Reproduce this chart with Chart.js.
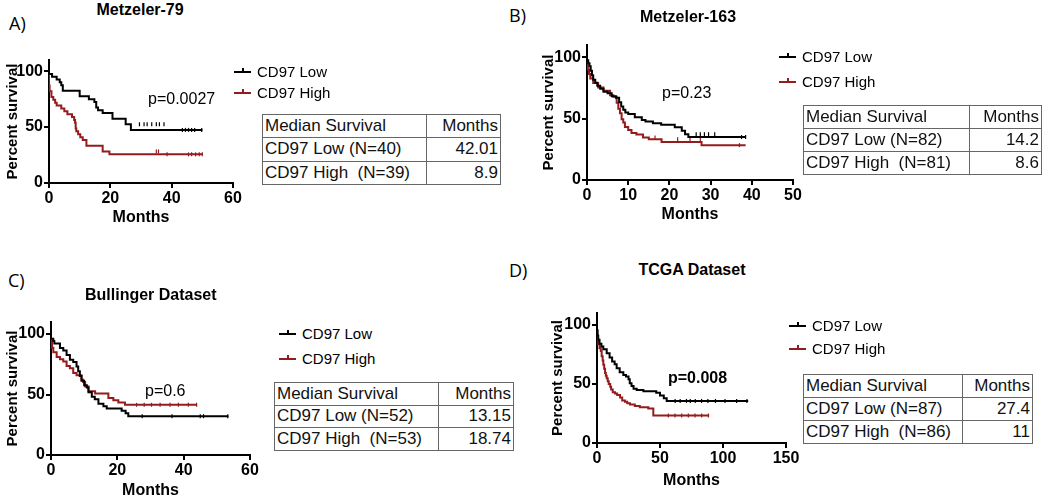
<!DOCTYPE html>
<html><head><meta charset="utf-8">
<script src="https://cdn.jsdelivr.net/npm/chart.js@4.4.0/dist/chart.umd.min.js"></script>
<style>
html,body{margin:0;padding:0;background:#fff;}
body{width:1050px;height:503px;position:relative;overflow:hidden;font-family:"Liberation Sans",Arial,sans-serif;color:#000;}
.abs{position:absolute;white-space:pre;}
.letter{font-family:"Open Sans",sans-serif;font-size:18px;line-height:20px;}
.title{font-weight:bold;font-size:16px;line-height:18px;}
.pval{font-size:16px;line-height:18px;}
.leg{font-size:15px;line-height:18px;}
table{position:absolute;border-collapse:collapse;font-size:17px;color:#111;}
td{border:1px solid #666;padding:0 2px;white-space:pre;line-height:20px;}
td.r{text-align:right;}
canvas{position:absolute;}
</style></head><body>
<script>
// ---------------- DATA ----------------
const yTicks = [0, 50, 100];
const groupNames = ['CD97 Low', 'CD97 High'];

// Panel A: Metzeler-79
const aXTicks = [0, 20, 40, 60];
const aLowT = [0,1,2.5,3.5,4,4.5,10,13,14.8,15.4,16,17.5,20.7,25,26.7,41.7,50];
const aLowS = [100,97.5,95,92.5,90,87.5,82.5,77.5,75,72.5,67.5,65,62.5,57.5,52.5,47.5,47.5];
const aLowCens = [29.5,31,32,33.5,35,36,37.5,43.5,44.5,45.5,46.5,47.5,49.8];
const aHighT = [0,0.2,0.8,1.4,2,2.5,4,5,6,7.5,8.2,8.5,8.7,8.9,9.5,10.2,11,12.2,17.5,19.7,36.5,50];
const aHighS = [100,87.2,82.1,76.9,74.4,71.8,69.2,66.7,64.1,61.5,59,56.4,53.8,48.7,46.2,43.6,41,38.5,33.3,28.2,25.6,25.6];
const aHighCens = [35,35.7,38.5,45.5,46.5,47.8,49,50];
const aTable = [['Median Survival','Months'],['CD97 Low (N=40)','42.01'],['CD97 High  (N=39)','8.9']];

// Panel B: Metzeler-163
const bXTicks = [0, 10, 20, 30, 40, 50];
const bLowT = [0,0.3,0.6,0.9,1.2,1.5,2,2.5,3.2,4,5,6,7,7.8,8.3,8.8,9.3,10,11.6,13.3,14.2,16,18,21.3,23,23.8,24.6,36.3,38.5];
const bLowS = [100,97.6,95.1,92.7,89,85.4,81.7,79.3,76.8,74.4,72,70.7,68.3,67.1,63.4,59.8,57.3,54.9,53.7,51.2,48.8,47.6,46.3,45.1,43,40.2,37.3,35,35];
const bLowCens = [26.5,27.5,28.5,29.5,31,37.5,38.5];
const bHighT = [0,0.2,0.5,0.8,1.5,2.7,4,5.6,6.4,7.2,7.6,8,8.4,8.8,9.2,10,10.8,12,13.6,15,18.1,27.8,31.8,38.5];
const bHighS = [100,95.1,90.1,86.4,82.7,79,75.3,72.8,69.1,67.9,63,58,54.3,49.4,46.9,43.2,40.7,38.3,37,34.6,33.3,30.9,28.4,28.4];
const bHighCens = [16.5,22,25,27.5,37];
const bTable = [['Median Survival','Months'],['CD97 Low (N=82)','14.2'],['CD97 High  (N=81)','8.6']];

// Panel C: Bullinger Dataset
const cXTicks = [0, 20, 40, 60];
const cLowT = [0,0.7,1,2.7,3.7,4.7,5.7,6.7,7.7,8.2,8.7,9.2,10,10.8,11.3,12.3,13.2,14.3,15.8,16.8,21.3,22.5,23.3,24.1,53.5];
const cLowS = [100,96.2,94.2,92.3,88.5,86.5,82.7,78.8,76.9,73.1,69.2,65.4,61.5,57.7,55.8,51.9,48.1,46.2,42.3,40.4,38.5,36.5,34.6,32.1,32.1];
const cLowCens = [27.5,36.5,45,46,53.3];
const cHighT = [0,0.3,0.7,1.7,2.7,3.7,4.7,5.7,6.7,7.7,9.2,9.7,10.3,11.3,13.3,17.3,18.8,20.3,22.3,23.8,44];
const cHighS = [100,94.3,88.7,84.9,81.1,79.2,77.4,73.6,71.7,67.9,66,62.3,60.4,56.6,52.8,50.9,47.2,45.3,43.4,41.5,41.5];
const cHighCens = [25.8,28.1,30.3,32.9,35.9,38.4,41.4,43.9];
const cTable = [['Median Survival','Months'],['CD97 Low (N=52)','13.15'],['CD97 High  (N=53)','18.74']];

// Panel D: TCGA Dataset
const dXTicks = [0, 50, 100, 150];
const dLowT = [0,0.5,1,2,3.5,5,7.7,10,12,14,15.6,18,20.9,23,25,26,27.4,29,31.5,36.8,47,50,53,55.3,58,120];
const dLowS = [100,95.4,90.8,87.4,83.9,81.6,79.3,75.9,72.4,69,66.7,63.2,59.8,57.5,56.3,54,50.6,48.3,46,44.8,43.7,42.5,40.2,37.9,35.6,35.6];
const dLowCens = [62,66,71,74,78,83,88,94,101.6,110.8,119];
const dHighT = [0,0.3,1,2,3,3.7,4.5,5,5.7,6.4,7,7.7,8.5,9.3,10.5,11.2,12.5,14.3,16,18.3,20,22.2,24,26.2,30,34,40.7,44.7,47.4,89];
const dHighS = [100,91.9,87.2,83.7,80.2,77.9,73.3,69.8,66.3,62.8,59.3,57,54.7,52.3,50,47.7,45.3,43,41.9,40.7,38.4,36,34.9,33.7,32.6,31.4,30.2,29.1,23.3,23.3];
const dHighCens = [56.6,61.9,67.2,72.5,77.8,83.1,88.4];
const dTable = [['Median Survival','Months'],['CD97 Low (N=87)','27.4'],['CD97 High  (N=86)','11']];

// ---------------- STYLE / LAYOUT ----------------
const COL_LOW = '#000000', COL_HIGH = '#941c1c';
const FONT = 'Liberation Sans';

function addDiv(cls, text, left, top, extra) {
  const d = document.createElement('div');
  d.className = 'abs ' + cls; d.textContent = text;
  d.style.left = left + 'px'; d.style.top = top + 'px';
  if (extra) Object.assign(d.style, extra);
  document.body.appendChild(d);
  return d;
}
function stepData(T, S) { return T.map((t, i) => ({x: t, y: S[i]})); }
function censData(T, S, C) {
  return C.map(c => { let y = S[0]; for (let i = 0; i < T.length; i++) { if (T[i] <= c) y = S[i]; } return {x: c, y: y}; });
}

function makePanel(P) {
  const cl = Math.round(P.tx - 9), ct = P.yt - 20;
  const width = P.xe + 16 - cl, height = Math.round(P.ty + 9.6 - ct);
  const cv = document.createElement('canvas');
  cv.width = width; cv.height = height;
  cv.style.left = cl + 'px'; cv.style.top = ct + 'px';
  cv.style.width = width + 'px'; cv.style.height = height + 'px';
  document.body.appendChild(cv);
  const W = P.ax - cl, H = height - (P.ay - ct);
  const lineDs = (T, S, col) => ({type: 'line', data: stepData(T, S), borderColor: col, borderWidth: 2, pointRadius: 0, stepped: 'after', fill: false, tension: 0});
  const censDs = (T, S, C, col) => ({type: 'scatter', data: censData(T, S, C), borderColor: col, backgroundColor: col, pointStyle: 'line', rotation: 90, pointRadius: 2, borderWidth: 1.2, showLine: false});
  new Chart(cv, {
    type: 'line',
    data: {datasets: [
      lineDs(P.lowT, P.lowS, COL_LOW),
      censDs(P.lowT, P.lowS, P.lowC, COL_LOW),
      lineDs(P.highT, P.highS, COL_HIGH),
      censDs(P.highT, P.highS, P.highC, COL_HIGH)
    ]},
    options: {
      responsive: false, animation: false, devicePixelRatio: 1,
      layout: {padding: {left: 0, top: 20, right: 16, bottom: 0}},
      plugins: {legend: {display: false}, tooltip: {enabled: false}, title: {display: false}},
      scales: {
        x: {
          type: 'linear', min: 0, max: P.xTicks[P.xTicks.length - 1],
          afterBuildTicks: s => { s.ticks = P.xTicks.map(v => ({value: v})); },
          afterFit: s => { s.height = H; },
          ticks: {font: {weight: 'bold', size: 16, family: FONT}, color: '#000', padding: 1, autoSkip: false, maxRotation: 0},
          grid: {display: true, drawOnChartArea: false, drawTicks: true, tickLength: 5, color: '#000', lineWidth: 2},
          border: {display: true, color: '#000', width: 2},
          title: {display: true, text: 'Months', font: {weight: 'bold', size: 16, family: FONT}, color: '#000', padding: 0}
        },
        y: {
          type: 'linear', min: 0, max: 110,
          afterBuildTicks: s => { s.ticks = yTicks.map(v => ({value: v})); },
          afterFit: s => { s.width = W; },
          ticks: {font: {weight: 'bold', size: 16, family: FONT}, color: '#000', padding: 1},
          grid: {display: true, drawOnChartArea: false, drawTicks: true, tickLength: 5, color: '#000', lineWidth: 2},
          border: {display: true, color: '#000', width: 2},
          title: {display: true, text: 'Percent survival', font: {weight: 'bold', size: 15, family: FONT}, color: '#000', padding: 0}
        }
      }
    }
  });

  // panel letter, title, p value
  addDiv('letter', P.letter, P.letterX, P.letterY - 10);
  const t = addDiv('title', P.title, 0, P.titleY - 9);
  t.style.left = (P.titleX - t.offsetWidth / 2) + 'px';
  addDiv('pval', P.p, P.pX, P.pY - 9, P.pBold ? {fontWeight: 'bold'} : null);

  // legend
  [[COL_LOW, P.legY1, groupNames[0]], [COL_HIGH, P.legY2, groupNames[1]]].forEach(([col, y, name]) => {
    const ln = document.createElement('div');
    Object.assign(ln.style, {position: 'absolute', left: P.legX + 'px', top: (y - 1) + 'px', width: '17px', height: '2px', background: col});
    document.body.appendChild(ln);
    const tk = document.createElement('div');
    Object.assign(tk.style, {position: 'absolute', left: (P.legX + 8) + 'px', top: (y - 4) + 'px', width: '1.5px', height: '4px', background: col});
    document.body.appendChild(tk);
    addDiv('leg', name, P.legX + 23, y - 9);
  });

  // median survival table
  const tb = document.createElement('table');
  tb.style.left = P.tbX + 'px'; tb.style.top = P.tbY + 'px';
  tb.style.width = P.tbW + 'px';
  const rh = P.tbH / 3;
  P.table.forEach(row => {
    const tr = document.createElement('tr');
    row.forEach((cell, j) => {
      const td = document.createElement('td');
      td.textContent = cell;
      if (j === 1) { td.className = 'r'; td.style.width = (P.tbW - P.tbC1) + 'px'; }
      else td.style.width = P.tbC1 + 'px';
      td.style.height = (rh - 1) + 'px';
      tr.appendChild(td);
    });
    tb.appendChild(tr);
  });
  document.body.appendChild(tb);
}

makePanel({letter: 'A)', letterX: 9, letterY: 23, title: 'Metzeler-79', titleX: 140, titleY: 10,
  ax: 49, ay: 183, yt: 60, xe: 233, tx: 12.5, ty: 217, xTicks: aXTicks,
  lowT: aLowT, lowS: aLowS, lowC: aLowCens, highT: aHighT, highS: aHighS, highC: aHighCens,
  p: 'p=0.0027', pX: 148, pY: 99, pBold: false,
  legX: 234, legY1: 72, legY2: 93,
  table: aTable, tbX: 262, tbY: 114, tbW: 239, tbH: 70, tbC1: 165});

makePanel({letter: 'B)', letterX: 509, letterY: 15, title: 'Metzeler-163', titleX: 688, titleY: 17,
  ax: 587, ay: 180, yt: 45, xe: 793, tx: 549, ty: 214, xTicks: bXTicks,
  lowT: bLowT, lowS: bLowS, lowC: bLowCens, highT: bHighT, highS: bHighS, highC: bHighCens,
  p: 'p=0.23', pX: 662, pY: 93, pBold: false,
  legX: 779, legY1: 57, legY2: 82,
  table: bTable, tbX: 803, tbY: 105, tbW: 239, tbH: 69, tbC1: 167});

makePanel({letter: 'C)', letterX: 8, letterY: 280, title: 'Bullinger Dataset', titleX: 151, titleY: 295,
  ax: 51, ay: 455, yt: 322, xe: 250, tx: 12.5, ty: 490, xTicks: cXTicks,
  lowT: cLowT, lowS: cLowS, lowC: cLowCens, highT: cHighT, highS: cHighS, highC: cHighCens,
  p: 'p=0.6', pX: 145, pY: 391, pBold: false,
  legX: 279, legY1: 334, legY2: 359,
  table: cTable, tbX: 274, tbY: 382, tbW: 240, tbH: 68, tbC1: 165});

makePanel({letter: 'D)', letterX: 509, letterY: 270, title: 'TCGA Dataset', titleX: 692, titleY: 270,
  ax: 597, ay: 443, yt: 313, xe: 786, tx: 557.5, ty: 480, xTicks: dXTicks,
  lowT: dLowT, lowS: dLowS, lowC: dLowCens, highT: dHighT, highS: dHighS, highC: dHighCens,
  p: 'p=0.008', pX: 668, pY: 378, pBold: true,
  legX: 789, legY1: 326, legY2: 349,
  table: dTable, tbX: 803, tbY: 374, tbW: 230, tbH: 69, tbC1: 160});
</script>
</body></html>
